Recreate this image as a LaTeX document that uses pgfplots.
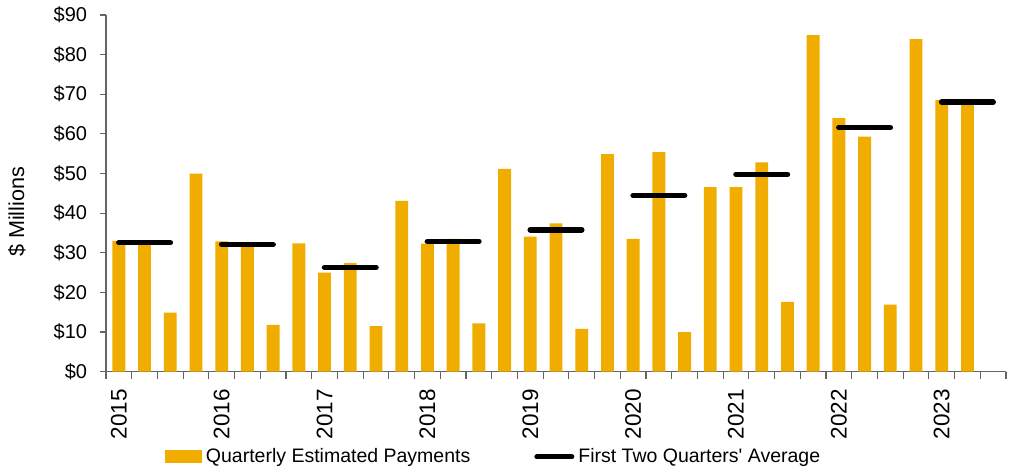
\documentclass[border=0pt]{standalone}
\usepackage{pgfplots}
\pgfplotsset{compat=1.18}
\usepackage{fontspec}
\setmainfont{Liberation Sans}[Ligatures=TeXOff]
\definecolor{barc}{RGB}{240,173,0}
\definecolor{axc}{RGB}{100,100,100}
\pgfplotstableread{
x y
0 33.0
1 32.1
2 14.9
3 50.0
4 32.9
5 31.4
6 11.8
7 32.4
8 25.0
9 27.4
10 11.5
11 43.1
12 32.3
13 33.5
14 12.2
15 51.2
16 34.1
17 37.4
18 10.8
19 54.9
20 33.5
21 55.4
22 10.0
23 46.6
24 46.6
25 52.8
26 17.6
27 84.9
28 64.0
29 59.3
30 16.9
31 83.9
32 68.5
33 67.5
}\bars
\pgfplotstableread{
x y
0 32.55
2 32.55
3 nan
4 32.1
6 32.1
7 nan
8 26.3
10 26.3
11 nan
12 32.9
14 32.9
15 nan
16 35.8
18 35.8
19 nan
20 44.5
22 44.5
23 nan
24 49.8
26 49.8
27 nan
28 61.6
30 61.6
31 nan
32 68.0
34 68.0
}\avgs
\begin{document}
\begin{tikzpicture}
\useasboundingbox (-53pt,-49.65pt) rectangle (453.5pt,185.85pt);
\begin{axis}[
  scale only axis, width=450pt, height=178.35pt,
  at={(0,0)}, anchor=south west,
  xmin=-0.5, xmax=34.5, ymin=0, ymax=90,
  axis x line*=bottom, axis y line*=left,
  axis line style={axc, line width=0.6pt},
  tick align=outside,
  major tick length=3pt, minor tick length=3.5pt,
  tick style={axc, line width=0.6pt},
  xtick={0,4,...,32},
  xticklabels={2015,2016,2017,2018,2019,2020,2021,2022,2023},
  major x tick style={draw=none},
  minor xtick={-0.5,0.5,...,34.5},
  xticklabel style={rotate=90, anchor=east, inner xsep=5.5pt, inner ysep=0pt, font=\fontsize{11.25}{13}\selectfont},
  ytick={0,10,...,90},
  yticklabels={\$0,\$10,\$20,\$30,\$40,\$50,\$60,\$70,\$80,\$90},
  yticklabel style={inner xsep=6.3pt, font=\fontsize{10}{12}\selectfont},
  ylabel={\$ Millions},
  ylabel style={at={(axis description cs:-0.0989,0.448)}, anchor=center, font=\fontsize{10.8}{13}\selectfont},
  unbounded coords=jump,
  legend columns=2,
  legend style={draw=none, fill=none, at={(axis description cs:0.4317,-0.239)}, anchor=center,
    font=\fontsize{9.75}{12}\selectfont,
    /tikz/every even column/.append style={column sep=30pt}},
]
\addplot[ybar, bar width=0.5, bar shift=0pt, fill=barc, draw=none,
  legend image code/.code={\fill[barc] (0pt,-3.25pt) rectangle (18.5pt,3.25pt);}]
  table[x=x, y=y] {\bars};
\addlegendentry{Quarterly Estimated Payments}
\addplot[black, line width=2.8pt, line cap=round, mark=none,
  legend image code/.code={\draw[black, line width=2.5pt, line cap=round] (1.25pt,0pt) -- (18.75pt,0pt);}]
  table[x=x, y=y] {\avgs};
\addlegendentry{First Two Quarters' Average}
\end{axis}
\end{tikzpicture}
\end{document}
